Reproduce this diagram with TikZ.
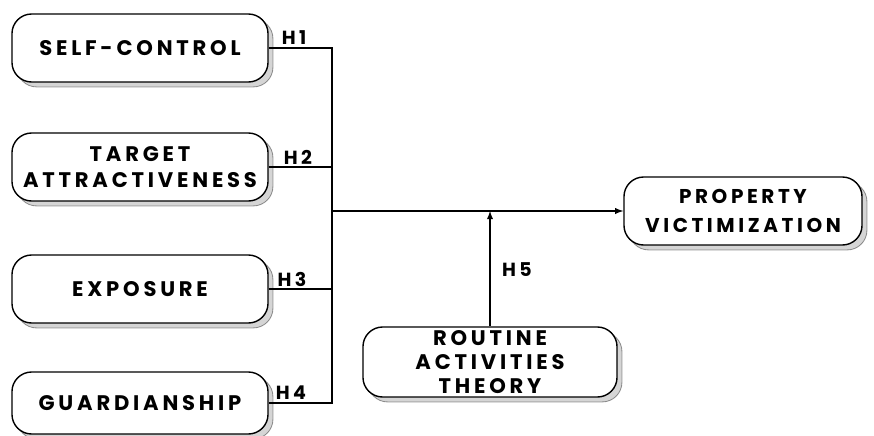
\documentclass[tikz,border=0pt]{standalone}
\usepackage{fontspec}
\setmainfont{Poppins}[LetterSpace=18]
\usetikzlibrary{shadows}

\tikzset{
  factor/.style={draw,line width=1pt,rounded corners=14pt,fill=white,minimum width=6.4cm,minimum height=1.7cm,align=center,inner sep=1pt,
    font=\bfseries\fontsize{15}{19}\selectfont,
    drop shadow={shadow xshift=3.5pt,shadow yshift=-3.5pt,fill=gray!65,draw=black!80,line width=.6pt}},
  hyp/.style={font=\bfseries\fontsize{13.5}{15}\selectfont}
}

\begin{document}
\begin{tikzpicture}[x=0.025cm,y=-0.025cm,line width=1pt]
\useasboundingbox (0,0) rectangle (874,435);
% left side
\node[factor] (sc) at (140,48) {SELF-CONTROL};
\node[factor] (ta) at (140,167) {TARGET\\ATTRACTIVENESS};
\node[factor] (ex) at (140,289) {EXPOSURE};
\node[factor,minimum height=1.55cm] (gu) at (140,403) {GUARDIANSHIP};
% right side
\node[factor,minimum width=5.95cm,font=\bfseries\fontsize{14.2}{21}\selectfont] (pv) at (743,211) {PROPERTY\\VICTIMIZATION};
\node[factor,minimum width=6.35cm,minimum height=1.75cm,font=\bfseries\fontsize{15}{16.8}\selectfont] (rat) at (490,362) {ROUTINE\\ACTIVITIES\\THEORY};
% junction line
\coordinate (top) at (332,48);
\coordinate (bot) at (332,403);
\draw (sc.east) -- (top) -- (bot) -- (gu.east);
\draw (ta.east) -- (ta.east -| top);
\draw (ex.east) -- (ex.east -| top);
\coordinate (mid) at (top |- pv.west);
\draw[-latex] (mid) -- (pv.west);
\draw[-latex] (rat.north) -- (rat.north |- mid);
% labels
\node[hyp] (h1) at (294,38) {H1};
\node[hyp] (h2) at (298,157) {H2};
\node[hyp] (h3) at (292,279) {H3};
\node[hyp] (h4) at (291,393) {H4};
\node[hyp] (h5) at (517,270) {H5};
\end{tikzpicture}
\end{document}
